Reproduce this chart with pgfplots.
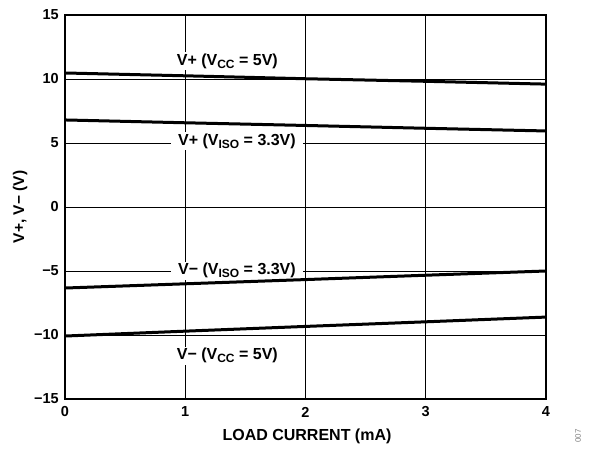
\documentclass[border=0pt]{standalone}
\usepackage{pgfplots}
\pgfplotsset{compat=1.18}
\usepackage{fontspec}
\setmainfont{Liberation Sans}
\newcommand{\sub}[1]{\raisebox{-0.35ex}{\fontsize{12}{13}\selectfont #1}}
\tikzset{lbl/.style={fill=white, inner xsep=7pt, inner ysep=1.5pt, anchor=base, font=\fontsize{16}{18}\selectfont\bfseries}}
\begin{document}
\begin{tikzpicture}
\path[use as bounding box] (-65pt,-49pt) rectangle (525pt,399pt);
\begin{axis}[
  scale only axis, width=481pt, height=384pt,
  at={(0,0)}, anchor=south west,
  xmin=0, xmax=4, ymin=-15, ymax=15,
  xtick={0,1,2,3,4}, ytick={-15,-10,-5,0,5,10,15},
  yticklabels={−15,−10,−5,0,5,10,15},
  xticklabels={0,1,2,3,4},
  major tick length=0pt,
  grid=major, grid style={black, line width=0.9pt},
  axis line style={black, line width=2pt},
  tick label style={font=\fontsize{14.5}{16}\selectfont\bfseries},
  xticklabel style={anchor=center, inner sep=0pt, yshift=-13pt},
  yticklabel style={anchor=east, inner sep=0pt, xshift=-6pt},
  clip=false,
]
\node[lbl] at (axis cs:1.35,11.09) {V+ (V\sub{CC} = 5V)};
\node[lbl] at (axis cs:1.43,4.84) {V+ (V\sub{ISO} = 3.3V)};
\node[lbl] at (axis cs:1.43,-5.31) {V− (V\sub{ISO} = 3.3V)};
\node[lbl] at (axis cs:1.35,-11.95) {V− (V\sub{CC} = 5V)};
\addplot[black, line width=3pt] coordinates {(0,10.47) (1,10.25) (2,10.02) (3,9.82) (4,9.6)};
\addplot[black, line width=3pt] coordinates {(0,6.8) (1,6.58) (2,6.37) (3,6.15) (4,5.94)};
\addplot[black, line width=3pt] coordinates {(0,-6.33) (1,-6.0) (2,-5.67) (3,-5.33) (4,-5.0)};
\addplot[black, line width=3pt] coordinates {(0,-10.08) (1,-9.7) (2,-9.33) (3,-8.97) (4,-8.6)};
\end{axis}
\node[font=\fontsize{16}{18}\selectfont\bfseries] at (242pt,-37pt) {LOAD CURRENT (mA)};
\node[rotate=90, font=\fontsize{15.5}{18}\selectfont\bfseries] at (-45pt,192pt) {V+, V− (V)};
\node[rotate=90, font=\fontsize{8}{9}\selectfont, gray] at (513pt,-37pt) {007};
\end{tikzpicture}
\end{document}
